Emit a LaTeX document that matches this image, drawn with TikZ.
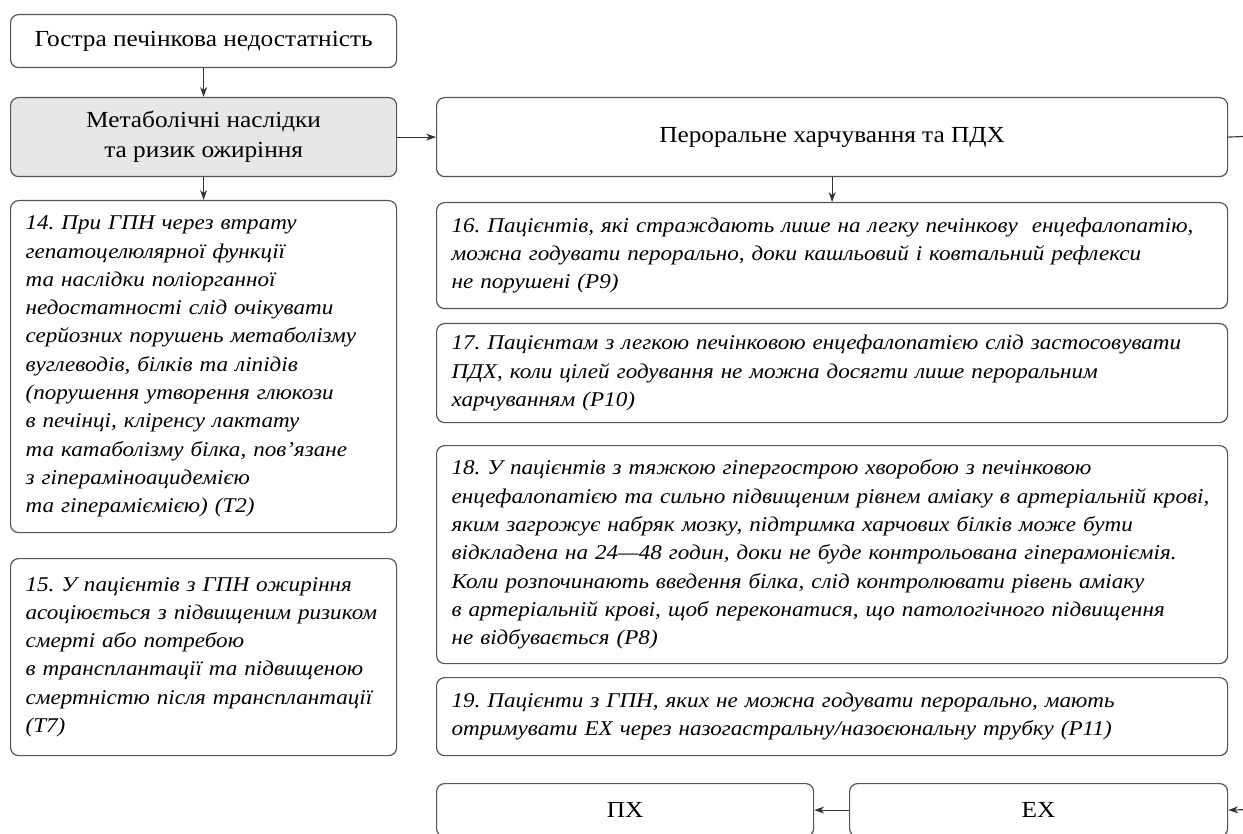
\documentclass[tikz,border=0pt]{standalone}
\usepackage{fontspec}
\setmainfont{Liberation Serif}
\newfontfamily\widefont[FakeStretch=1.1]{Liberation Serif}
\usetikzlibrary{arrows.meta}
\definecolor{boxline}{HTML}{555555}
\definecolor{arrowline}{HTML}{333333}
\definecolor{grayfill}{HTML}{E6E7E8}
\frenchspacing
\begin{document}
\begin{tikzpicture}[x=1pt,y=-1pt,
  box/.style={draw=boxline, line width=1.2pt, rounded corners=8pt, anchor=north west,
    inner ysep=0pt, inner xsep=0pt},
  titlebox/.style={box, align=center, font=\widefont\fontsize{23}{30}\selectfont},
  notebox/.style={box, align=left, inner xsep=15pt, font=\widefont\fontsize{21}{28.3}\selectfont\itshape},
  conn/.style={draw=arrowline, line width=1.1pt},
  arr/.style={conn, -{Stealth[length=10pt,width=7pt]}}
]
\clip (0,0) rectangle (1243,834);
\useasboundingbox (0,0) rectangle (1243,834);

% top-left boxes
\node[titlebox, minimum width=386pt, minimum height=53pt] (acute) at (10,14)
  {Гостра печінкова недостатність};
\node[titlebox, fill=grayfill, minimum width=386pt, minimum height=79pt] (metab) at (10,97)
  {Метаболічні наслідки\\та ризик ожиріння};
\node[titlebox, minimum width=791pt, minimum height=79pt] (oral) at (436,97)
  {Пероральне харчування та ПДХ};

% left column notes
\node[notebox, text width=356pt, minimum height=332pt] (n14) at (10,200)
  {14. При ГПН через втрату\\
   гепатоцелюлярної функції\\
   та наслідки поліорганної\\
   недостатності слід очікувати\\
   серйозних порушень метаболізму\\
   вуглеводів, білків та ліпідів\\
   (порушення утворення глюкози\\
   в печінці, кліренсу лактату\\
   та катаболізму білка, пов’язане\\
   з гіпераміноацидемією\\
   та гіпераміємією) (T2)};
\node[notebox, text width=356pt, minimum height=197pt] (n15) at (10,558)
  {15. У пацієнтів з ГПН ожиріння\\
   асоціюється з підвищеним ризиком\\
   смерті або потребою\\
   в трансплантації та підвищеною\\
   смертністю після трансплантації\\
   (T7)};

% right column notes
\node[notebox, text width=761pt, minimum height=106pt] (n16) at (436,202)
  {16. Пацієнтів, які страждають лише на легку печінкову\ \ енцефалопатію,\\
   можна годувати перорально, доки кашльовий і ковтальний рефлекси\\
   не порушені (P9)};
\node[notebox, text width=761pt, minimum height=99pt] (n17) at (436,323)
  {17. Пацієнтам з легкою печінковою енцефалопатією слід застосовувати\\
   ПДХ, коли цілей годування не можна досягти лише пероральним\\
   харчуванням (P10)};
\node[notebox, text width=761pt, minimum height=218pt] (n18) at (436,445)
  {18. У пацієнтів з тяжкою гіпергострою хворобою з печінковою\\
   енцефалопатією та сильно підвищеним рівнем аміаку в артеріальній крові,\\
   яким загрожує набряк мозку, підтримка харчових білків може бути\\
   відкладена на 24—48 годин, доки не буде контрольована гіперамоніємія.\\
   Коли розпочинають введення білка, слід контролювати рівень аміаку\\
   в артеріальній крові, щоб переконатися, що патологічного підвищення\\
   не відбувається (P8)};
\node[notebox, text width=761pt, minimum height=78pt] (n19) at (436,677)
  {19. Пацієнти з ГПН, яких не можна годувати перорально, мають\\
   отримувати ЕХ через назогастральну/назоєюнальну трубку (P11)};

% bottom boxes (cut by the frame)
\node[titlebox, minimum width=377pt, minimum height=53pt] (px) at (436,783) {ПХ};
\node[titlebox, minimum width=378pt, minimum height=53pt] (ex) at (849,783) {ЕХ};

\coordinate (outR) at (1243,136.5);
\coordinate (inR) at (1250,809.5);

% connectors
\draw[arr] (acute.south) -- (metab.north);
\draw[arr] (metab.east) -- (oral.west);
\draw[conn] (oral.east) -- (outR);
\draw[arr] (metab.south) -- (n14.north);
\draw[arr] (oral.south) -- (n16.north);
\draw[arr] (ex.west) -- (px.east);
\draw[arr] (inR) -- (ex.east);
\end{tikzpicture}
\end{document}
